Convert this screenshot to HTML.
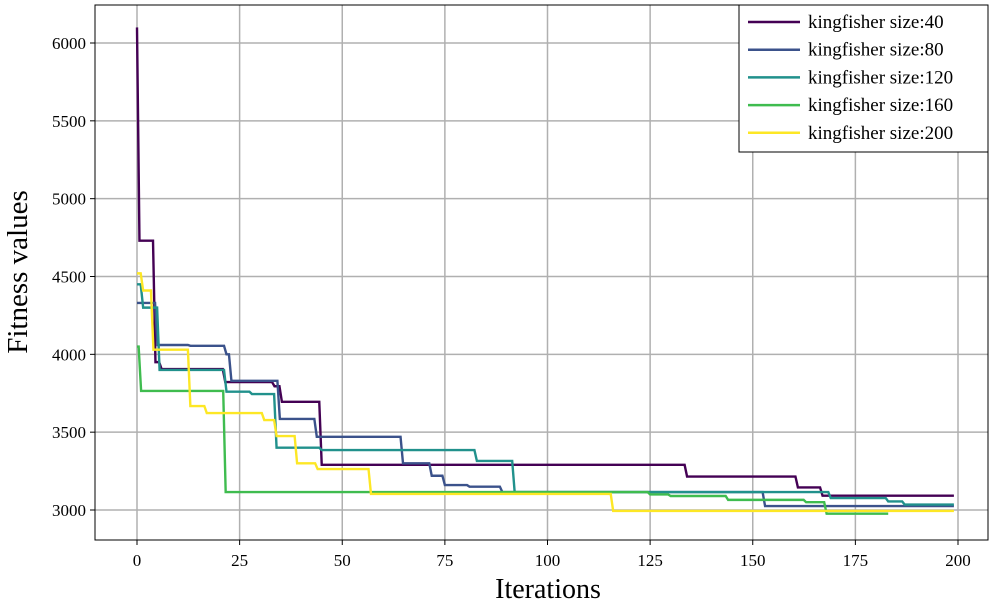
<!DOCTYPE html>
<html><head><meta charset="utf-8"><style>
body{margin:0;background:#fff;}
svg{display:block;font-family:"Liberation Serif",serif;}
</style></head><body>
<svg id="c" width="1000" height="603"></svg>
<script>
const xTicks=[0,25,50,75,100,125,150,175,200];
const yTicks=[3000,3500,4000,4500,5000,5500,6000];
const seriesNames=["kingfisher size:40","kingfisher size:80","kingfisher size:120","kingfisher size:160","kingfisher size:200"];
const seriesColors=["#440154","#3b528b","#21918c","#3fbc4f","#fde725"];
const s40=[[0,6100],[0.6,4730],[4.5,3950],[6,3905],[21.5,3822],[33.5,3795],[35.3,3695],[45,3290],[134,3215],[161,3145],[167,3092],[199,3092]];
const s80=[[0,4330],[5,4060],[13,4055],[21.8,4000],[23,3830],[34.8,3585],[43.8,3470],[64.8,3300],[71.8,3220],[75,3160],[81,3150],[89,3115],[153,3025],[199,3025]];
const s120=[[0,4450],[1.5,4300],[5.5,3900],[21.8,3760],[28,3745],[34,3400],[45,3385],[82.8,3315],[92,3115],[169,3077],[183,3055],[187,3035],[199,3035]];
const s160=[[0,4050],[1,3765],[21.6,3115],[125,3100],[130,3090],[144,3065],[163,3050],[168,2976],[183,2976]];
const s200=[[0,4520],[1.5,4410],[4,4030],[13,3668],[17,3623],[31,3578],[34,3475],[39,3300],[44,3263],[57,3103],[116,2994],[199,2994]];
const allSeries=[s40,s80,s120,s160,s200];

const L=95,R=988,T=5,B=540;
const X=v=>137+v*(958-137)/200;
const Y=v=>510-(v-3000)*(510-43)/3000;
const NS="http://www.w3.org/2000/svg";
const svg=document.getElementById('c');
function mk(t,a,p){const e=document.createElementNS(NS,t);for(const k in a)e.setAttribute(k,a[k]);(p||svg).appendChild(e);return e;}

xTicks.forEach(t=>{
  const g=mk('line',{x1:X(t),x2:X(t),y1:T,y2:B,stroke:'#b0b0b0','stroke-width':1.5});
  
  
  const tk=mk('line',{x1:X(t),x2:X(t),y1:B,y2:B+5,stroke:'#000','stroke-width':1});
  
  
  const tx=mk('text',{x:X(t),y:566,'text-anchor':'middle','font-size':17});
  tx.textContent=t;
  
  
});
yTicks.forEach(t=>{
  const g=mk('line',{x1:L,x2:R,y1:Y(t),y2:Y(t),stroke:'#b0b0b0','stroke-width':1.5});
  
  
  const tk=mk('line',{x1:L-5,x2:L,y1:Y(t),y2:Y(t),stroke:'#000','stroke-width':1});
  
  
  const tx=mk('text',{x:L-9,y:Y(t)+6,'text-anchor':'end','font-size':17});
  tx.textContent=t;
  
  
});

allSeries.forEach((s,i)=>{
  let d='M'+X(s[0][0])+','+Y(s[0][1]);
  for(let j=1;j<s.length;j++){
    const x=s[j][0];
    if(s[j][1]!==s[j-1][1]){
      d+=' L'+X(Math.max(x-0.6,s[j-1][0]))+','+Y(s[j-1][1])+' L'+X(x)+','+Y(s[j][1]);
    } else d+=' L'+X(x)+','+Y(s[j][1]);
  }
  const p=mk('path',{d:d,fill:'none',stroke:seriesColors[i],'stroke-width':2.4});
  
  
});

const fr=mk('rect',{x:L,y:T,width:R-L,height:B-T,fill:'none',stroke:'#000','stroke-width':1});



const lg=mk('g',{});


mk('rect',{x:739,y:5,width:249,height:147,fill:'#fff',stroke:'#000','stroke-width':1},lg);
seriesNames.forEach((n,i)=>{
  const y=22+i*27.7;
  const ln=mk('line',{x1:748,x2:800,y1:y,y2:y,stroke:seriesColors[i],'stroke-width':2.5},lg);
  
  
  const t=mk('text',{x:808,y:y+6,'font-size':19},lg);
  t.textContent=n;
  
  
});

const xl=mk('text',{x:548,y:598,'text-anchor':'middle','font-size':28});
xl.textContent='Iterations';


const yl=mk('text',{x:0,y:0,'text-anchor':'middle','font-size':29,transform:'translate(27,272) rotate(-90)'});
yl.textContent='Fitness values';


</script>
</body></html>
